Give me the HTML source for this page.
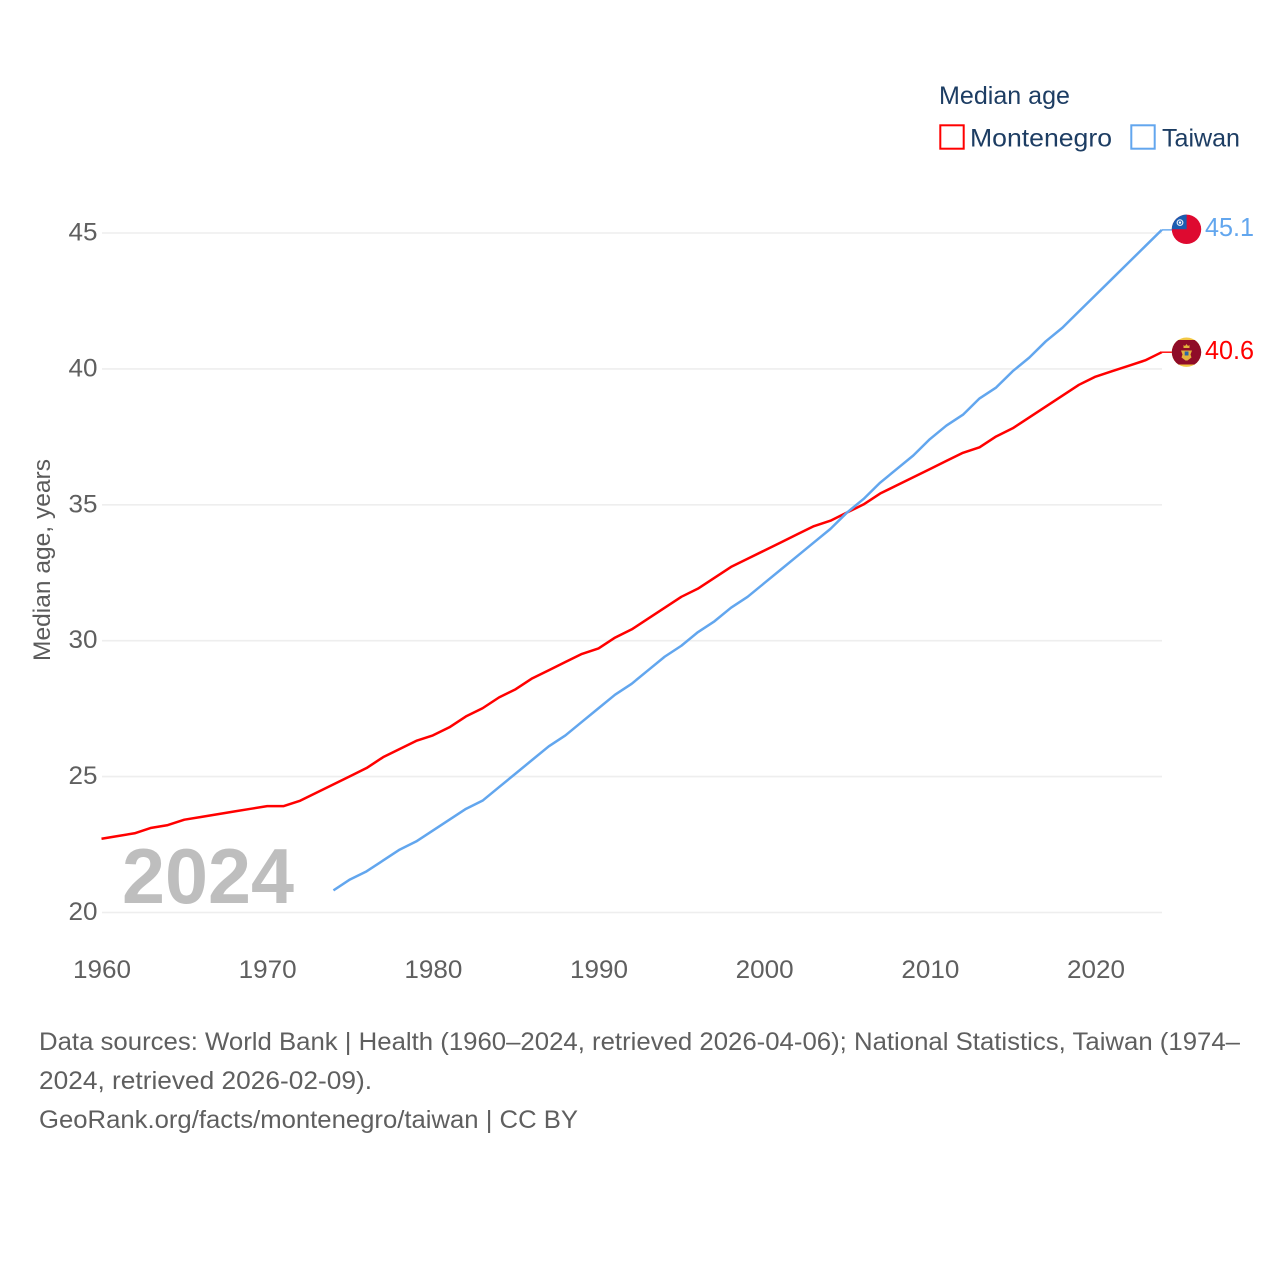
<!DOCTYPE html>
<html lang="en">
<head>
<meta charset="utf-8">
<title>Median age: Montenegro and Taiwan</title>
<style>
html,body{margin:0;padding:0;background:#fff;width:1280px;height:1280px;overflow:hidden}
svg{display:block;font-family:"Liberation Sans",sans-serif}
</style>
</head>
<body>
<svg id="chart" xmlns="http://www.w3.org/2000/svg" width="1280" height="1280" viewBox="0 0 1280 1280">
  <defs>
    <clipPath id="flag-clip-tw"><circle cx="1186.5" cy="229.3" r="14.7"/></clipPath>
    <clipPath id="flag-clip-me"><circle cx="1186.5" cy="352.2" r="14.7"/></clipPath>
  </defs>
  <rect width="1280" height="1280" fill="#fff"/>
  <g id="grid"></g>
  <g id="y-ticks"></g>
  <g id="x-ticks"></g>
  <text transform="translate(50,661) rotate(-90)" font-size="24.5" fill="#5b5b5b" textLength="202" lengthAdjust="spacingAndGlyphs">Median age, years</text>
  <text x="122" y="903" font-size="78" font-weight="700" fill="#bebebe" textLength="172" lengthAdjust="spacingAndGlyphs">2024</text>
  <g id="series"></g>

  <g>
    <text x="939" y="104" font-size="25" fill="#1d3d63" textLength="131" lengthAdjust="spacingAndGlyphs">Median age</text>
    <g>
      <rect x="940.3" y="125.3" width="23.4" height="23.4" fill="#fff" stroke="#ff0000" stroke-width="2"/>
      <text x="970" y="146.5" font-size="25" fill="#1d3d63" textLength="142" lengthAdjust="spacingAndGlyphs">Montenegro</text>
    </g>
    <g>
      <rect x="1131.3" y="125.3" width="23.4" height="23.4" fill="#fff" stroke="#62a6ee" stroke-width="2"/>
      <text x="1162" y="146.5" font-size="25" fill="#1d3d63" textLength="78" lengthAdjust="spacingAndGlyphs">Taiwan</text>
    </g>
  </g>

  <g clip-path="url(#flag-clip-tw)">
    <rect x="1170" y="213" width="33" height="33" fill="#de0a30"/>
    <rect x="1170" y="213" width="16.6" height="16.2" fill="#1a5cb0"/>
    <circle cx="1180" cy="222.6" r="3.4" fill="#dfe8f5"/>
    <circle cx="1180" cy="222.6" r="2.2" fill="#1a5cb0"/>
    <circle cx="1180" cy="222.6" r="1.2" fill="#fff"/>
  </g>
  <g clip-path="url(#flag-clip-me)">
    <rect x="1170" y="336" width="33" height="33" fill="#f2c744"/>
    <rect x="1170" y="340" width="33" height="24.5" fill="#8f0c28"/>
    <path d="M1183.5 348 v-3 l1.5 1 l1.5 -2 l1.5 2 l1.5 -1 v3 z" fill="#e3b23c"/>
    <path d="M1181 350.5 h11 l-1.5 4 l1 3 l-4 3 h-2 l-4 -3 l1 -3 z" fill="#e3b23c"/>
    <rect x="1184.7" y="351.5" width="3.8" height="4" fill="#2a66a8"/>
  </g>
  <text id="end-label-taiwan" x="1205" y="236" font-size="25.5" fill="#62a6ee" textLength="49" lengthAdjust="spacingAndGlyphs">45.1</text>
  <text id="end-label-montenegro" x="1205" y="359" font-size="25.5" fill="#ff0000" textLength="49" lengthAdjust="spacingAndGlyphs">40.6</text>

  <g font-size="25" fill="#5f5f5f">
    <text x="39" y="1050" textLength="1201" lengthAdjust="spacingAndGlyphs">Data sources: World Bank | Health (1960–2024, retrieved 2026-04-06); National Statistics, Taiwan (1974–</text>
    <text x="39" y="1089" textLength="333" lengthAdjust="spacingAndGlyphs">2024, retrieved 2026-02-09).</text>
    <text x="39" y="1128" textLength="539" lengthAdjust="spacingAndGlyphs">GeoRank.org/facts/montenegro/taiwan | CC BY</text>
  </g>
</svg>
<script>
const montenegroYears = [1960,1961,1962,1963,1964,1965,1966,1967,1968,1969,1970,1971,1972,1973,1974,1975,1976,1977,1978,1979,1980,1981,1982,1983,1984,1985,1986,1987,1988,1989,1990,1991,1992,1993,1994,1995,1996,1997,1998,1999,2000,2001,2002,2003,2004,2005,2006,2007,2008,2009,2010,2011,2012,2013,2014,2015,2016,2017,2018,2019,2020,2021,2022,2023,2024];
const montenegroValues = [22.7,22.8,22.9,23.1,23.2,23.4,23.5,23.6,23.7,23.8,23.9,23.9,24.1,24.4,24.7,25.0,25.3,25.7,26.0,26.3,26.5,26.8,27.2,27.5,27.9,28.2,28.6,28.9,29.2,29.5,29.7,30.1,30.4,30.8,31.2,31.6,31.9,32.3,32.7,33.0,33.3,33.6,33.9,34.2,34.4,34.7,35.0,35.4,35.7,36.0,36.3,36.6,36.9,37.1,37.5,37.8,38.2,38.6,39.0,39.4,39.7,39.9,40.1,40.3,40.6];
const taiwanYears = [1974,1975,1976,1977,1978,1979,1980,1981,1982,1983,1984,1985,1986,1987,1988,1989,1990,1991,1992,1993,1994,1995,1996,1997,1998,1999,2000,2001,2002,2003,2004,2005,2006,2007,2008,2009,2010,2011,2012,2013,2014,2015,2016,2017,2018,2019,2020,2021,2022,2023,2024];
const taiwanValues = [20.8,21.2,21.5,21.9,22.3,22.6,23.0,23.4,23.8,24.1,24.6,25.1,25.6,26.1,26.5,27.0,27.5,28.0,28.4,28.9,29.4,29.8,30.3,30.7,31.2,31.6,32.1,32.6,33.1,33.6,34.1,34.7,35.2,35.8,36.3,36.8,37.4,37.9,38.3,38.9,39.3,39.9,40.4,41.0,41.5,42.1,42.7,43.3,43.9,44.5,45.1];
const yTickValues = [20,25,30,35,40,45];
const xTickValues = [1960,1970,1980,1990,2000,2010,2020];

const NS = 'http://www.w3.org/2000/svg';
function xScale(year) { return 101.5 + (year - 1960) * 16.567; }
function yScale(value) { return 912.5 - (value - 20) * 27.18; }
function make(tag, attrs, parent) {
  const el = document.createElementNS(NS, tag);
  for (const key in attrs) el.setAttribute(key, attrs[key]);
  parent.appendChild(el);
  return el;
}

const gridGroup = document.getElementById('grid');
const yGroup = document.getElementById('y-ticks');
yTickValues.forEach(function (v) {
  const line = make('line', {x1: 102, x2: 1162, y1: yScale(v), y2: yScale(v), stroke: '#eeeeee', 'stroke-width': 1.6}, gridGroup);
  
  
  const label = make('text', {x: 97.5, y: yScale(v) + 7.5, 'text-anchor': 'end', 'font-size': 25, fill: '#5f5f5f', textLength: 29, lengthAdjust: 'spacingAndGlyphs'}, yGroup);
  
  
  label.textContent = String(v);
});

const xGroup = document.getElementById('x-ticks');
xTickValues.forEach(function (year) {
  const label = make('text', {x: xScale(year) + 0.5, y: 978, 'text-anchor': 'middle', 'font-size': 25, fill: '#5f5f5f', textLength: 58, lengthAdjust: 'spacingAndGlyphs'}, xGroup);
  
  
  label.textContent = String(year);
});

const seriesGroup = document.getElementById('series');
function drawSeries(years, values, color, name) {
  const pts = years.map(function (y, i) { return xScale(y).toFixed(2) + ',' + (yScale(values[i]) - 0.4).toFixed(2); });
  const line = make('polyline', {points: pts.join(' '), fill: 'none', stroke: color, 'stroke-width': 2.5, 'stroke-linejoin': 'round'}, seriesGroup);
  
  
  const lastY = yScale(values[values.length - 1]) - 0.4;
  const tail = make('line', {x1: xScale(years[years.length - 1]), x2: 1172, y1: lastY, y2: lastY, stroke: color, 'stroke-width': 1.4}, seriesGroup);
  
  
}
drawSeries(montenegroYears, montenegroValues, '#ff0000', 'line-montenegro');
drawSeries(taiwanYears, taiwanValues, '#62a6ee', 'line-taiwan');

document.getElementById('end-label-taiwan').textContent = taiwanValues[taiwanValues.length - 1].toFixed(1);
document.getElementById('end-label-montenegro').textContent = montenegroValues[montenegroValues.length - 1].toFixed(1);
</script>
</body>
</html>
